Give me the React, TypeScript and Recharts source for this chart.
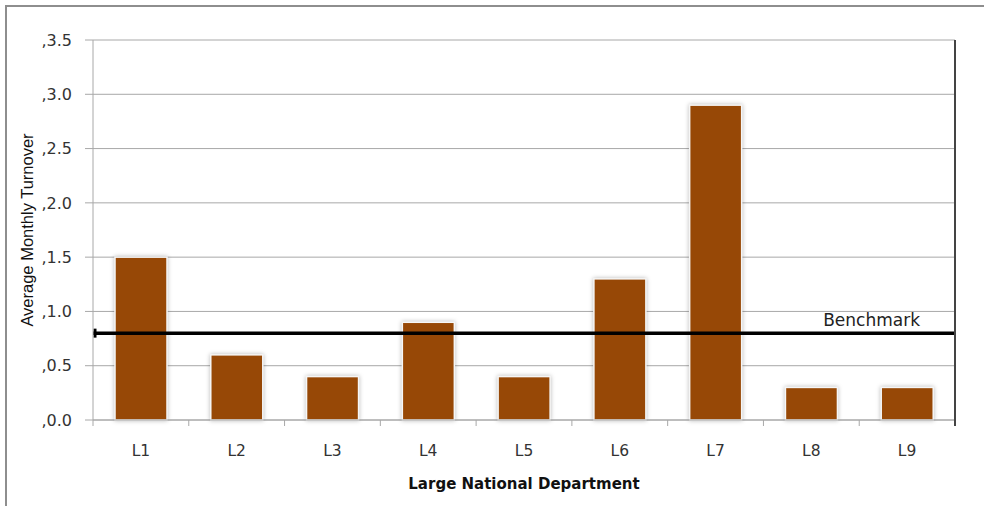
import { Bar, BarChart, CartesianGrid, ReferenceLine, XAxis, YAxis } from 'recharts'

const departments = ['L1', 'L2', 'L3', 'L4', 'L5', 'L6', 'L7', 'L8', 'L9']
const turnover = [1.5, 0.6, 0.4, 0.9, 0.4, 1.3, 2.9, 0.3, 0.3]
const benchmark = 0.8
const yTicks = [0, 0.5, 1, 1.5, 2, 2.5, 3, 3.5]

const rows = departments.map((name, i) => ({ name, turnover: turnover[i] }))

const WIDTH = 984
const HEIGHT = 506
const MARGIN = { top: 40, right: 27, bottom: 0, left: 0 }
const Y_AXIS_W = 93
const EDGE_W = 2
const X_AXIS_H = 86
const PLOT_W = WIDTH - MARGIN.left - MARGIN.right - Y_AXIS_W - EDGE_W

const BAR_FILL = '#974806'
const GRID = '#a8a8a8'
const TEXT = '#333'

function BarShape(props: any) {
  const { x, y, width, height } = props
  if (!height || height <= 0) return null
  return (
    <rect
      x={x}
      y={y}
      width={width}
      height={height}
      fill={BAR_FILL}
      stroke="#f6f6f6"
      strokeWidth={1.5}
      style={{ filter: 'drop-shadow(0 0 2px rgba(0,0,0,0.28))' }}
    />
  )
}

// category label in the middle of the band, tick marks on the band edges
function DeptTick(props: any) {
  const { x, y, payload, index } = props
  const half = payload?.offset ?? PLOT_W / departments.length / 2
  const last = index === departments.length - 1
  return (
    <g>
      <line x1={x - half} x2={x - half} y1={y} y2={y + 6} stroke={GRID} />
      {last && <line x1={x + half} x2={x + half} y1={y} y2={y + 6} stroke="#444" strokeWidth={2} />}
      <text x={x} y={y + 36} textAnchor="middle" fill={TEXT} fontSize={15.5} fontFamily="DejaVu Sans">
        {payload.value}
      </text>
    </g>
  )
}

function BenchmarkLine(p: any) {
  const { x1, y1, x2, y2 } = p
  return (
    <g>
      <line x1={x1} y1={y1} x2={x2} y2={y2} stroke="#000" strokeWidth={3.5} />
      <line x1={x1 + 2} x2={x1 + 2} y1={y1 - 4.5} y2={y1 + 4.5} stroke="#000" strokeWidth={3} />
    </g>
  )
}

export default function App() {
  return (
    <div style={{ position: 'absolute', left: 0, top: 0, width: WIDTH, height: HEIGHT, background: '#fff' }}>
      <div
        style={{
          position: 'absolute',
          left: 5,
          top: 5,
          right: 0,
          bottom: 0,
          borderTop: '2px solid #8e8e8e',
          borderLeft: '2px solid #8e8e8e',
        }}
      />
      <div style={{ position: 'absolute', left: 0, top: 0 }}>
        <BarChart width={WIDTH} height={HEIGHT} data={rows} margin={MARGIN} style={{ fontFamily: 'DejaVu Sans' }}>
          <CartesianGrid vertical={false} stroke={GRID} />
          <XAxis
            dataKey="name"
            height={X_AXIS_H}
            interval={0}
            tickLine={false}
            tickSize={0}
            tickMargin={0}
            axisLine={{ stroke: GRID }}
            tick={<DeptTick />}
            label={{
              content: ({ viewBox }: any) => (
                <text
                  x={viewBox.x + viewBox.width / 2}
                  y={viewBox.y + 69}
                  textAnchor="middle"
                  fill="#111"
                  fontSize={15}
                  fontWeight="bold"
                  fontFamily="DejaVu Sans"
                >
                  Large National Department
                </text>
              ),
            }}
          />
          <YAxis
            width={Y_AXIS_W}
            domain={[0, 3.5]}
            ticks={yTicks}
            tickSize={8}
            tickMargin={13}
            tickLine={{ stroke: GRID }}
            axisLine={{ stroke: GRID }}
            tick={{ fill: TEXT, fontSize: 16, fontFamily: 'DejaVu Sans' }}
            tickFormatter={(v: number) => ',' + v.toFixed(1)}
            label={{
              content: ({ viewBox }: any) => {
                const cx = 27
                const cy = viewBox.y + viewBox.height / 2
                return (
                  <text
                    x={cx}
                    y={cy}
                    transform={`rotate(-90, ${cx}, ${cy})`}
                    textAnchor="middle"
                    dominantBaseline="central"
                    fill="#111"
                    fontSize={16.5}
                    fontFamily="Liberation Sans"
                  >
                    Average Monthly Turnover
                  </text>
                )
              },
            }}
          />
          {/* dark frame on the right side of the plot */}
          <YAxis
            yAxisId="edge"
            orientation="right"
            width={EDGE_W}
            domain={[0, 3.5]}
            tick={false}
            tickLine={false}
            axisLine={{ stroke: '#444', strokeWidth: 2 }}
          />
          <Bar dataKey="turnover" barSize={52} shape={<BarShape />} isAnimationActive={false} />
          <ReferenceLine
            y={benchmark}
            shape={<BenchmarkLine />}
            label={{
              content: ({ viewBox }: any) => (
                <text
                  x={viewBox.x + viewBox.width - 35}
                  y={viewBox.y - 7}
                  textAnchor="end"
                  fill="#222"
                  fontSize={17}
                  fontFamily="DejaVu Sans"
                >
                  Benchmark
                </text>
              ),
            }}
          />
        </BarChart>
      </div>
    </div>
  )
}
